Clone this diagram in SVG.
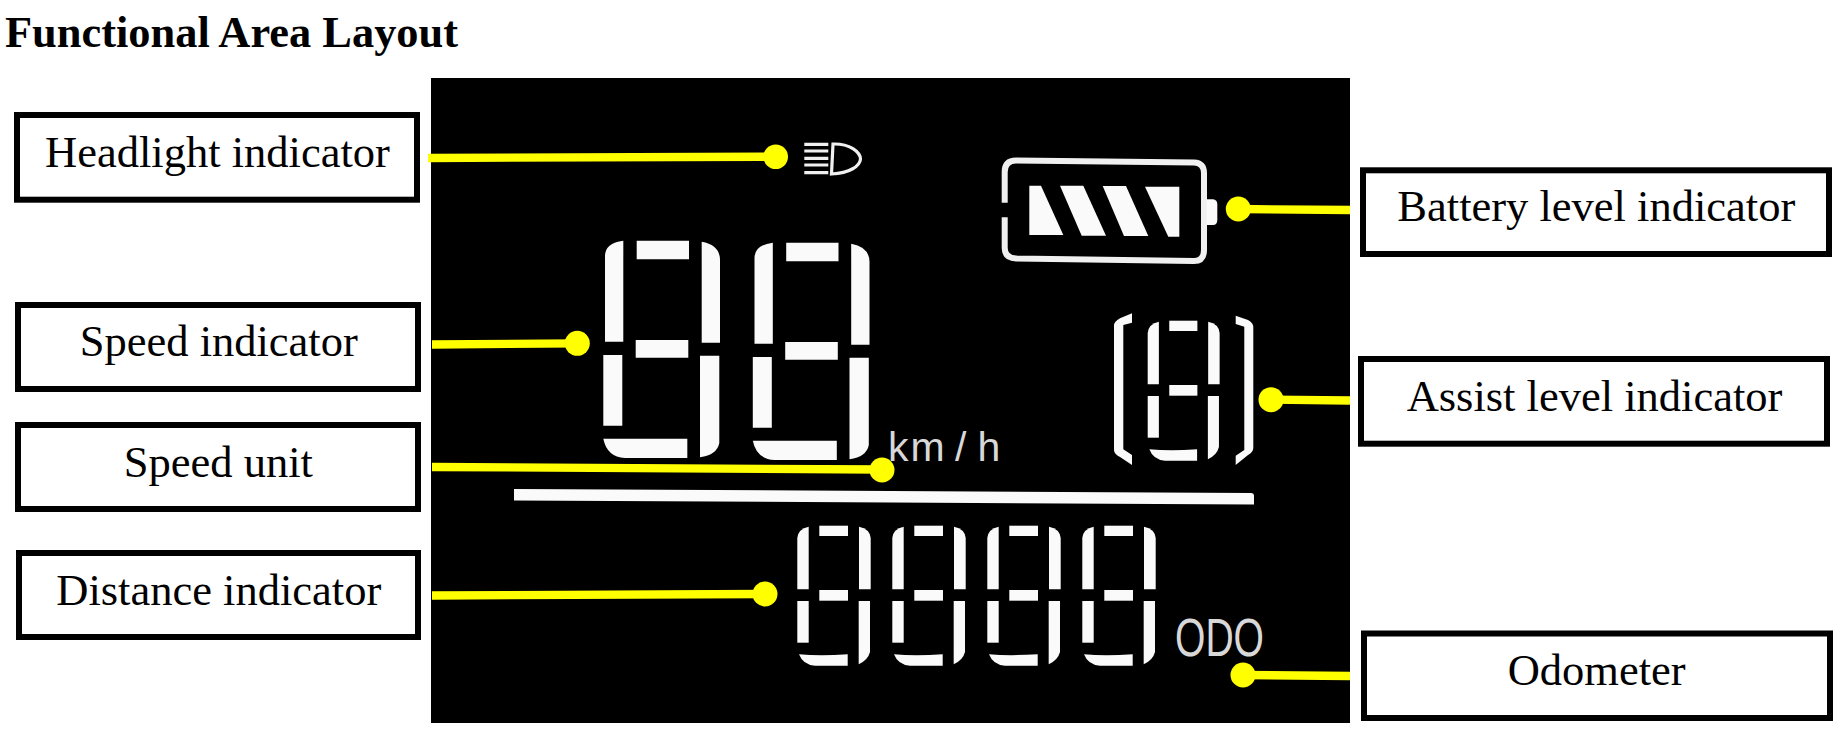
<svg xmlns="http://www.w3.org/2000/svg" width="1840" height="744" viewBox="0 0 1840 744">
<style>
.box{fill:#fff;stroke:#000;stroke-width:6}
.lbl{font-family:"Liberation Serif","Times New Roman",serif;font-size:44.5px;fill:#000;text-anchor:middle}
.ttl{font-family:"Liberation Serif","Times New Roman",serif;font-size:44.4px;font-weight:bold;fill:#000}
.seg{fill:#fafafa}
.ln{stroke:#ffff00;stroke-width:8.3;fill:none}
.dot{fill:#ffff00}
.lcd{font-family:"Liberation Sans",Arial,sans-serif;fill:#d8d8d8}
</style>
<defs>
<g id="bigDigit" class="seg">
<path d="M605 341.7V256Q605 243 623.3 240.7V341.7Z"/>
<path d="M636.7 240.7H689V259.3H636.7Z"/>
<path d="M701.7 241.7Q720 245 720 260V342.7H701.7Z"/>
<path d="M635.7 340H688.3V357.7H635.7Z"/>
<path d="M603.3 355H622.3V425.7H603.3Z"/>
<path d="M603.3 438.7H687.3V458H625Q607 457 603.3 438.7Z"/>
<path d="M700 355.7H719.3V443Q717 455 700 457.3Z"/>
</g>
<g id="smallDigit" class="seg">
<path d="M797.3 589.3V538Q798 529 808.7 526.7V589.3Z"/>
<path d="M819.3 525.7H848V536H819.3Z"/>
<path d="M859 526.7Q870 529 870.7 538V589.3H859Z"/>
<path d="M819.3 590H848V600.7H819.3Z"/>
<path d="M797.3 601H808.7V642.7H797.3Z"/>
<path d="M799 654.3Q820 656 847.7 654.3V665.7H815Q803 665 799 654.3Z"/>
<path d="M858.7 601H870V652Q868 660 858.7 664.3Z"/>
</g>
</defs>
<rect width="1840" height="744" fill="#fff"/>
<text class="ttl" x="5" y="47">Functional Area Layout</text>
<g id="display">
<rect x="431" y="78" width="919" height="645" fill="#000"/>
<g id="headlight-icon">
<path d="M804.3 144.3H828.3M804.3 151H828.3M804.3 158.3H828.3M804.3 165H828.3M804.3 172.7H828.3" stroke="#f0f0f0" stroke-width="3.2" fill="none"/>
<path d="M833 144C850 143.5 860 152 860.5 159C860 166 850 173 831.5 174Z" stroke="#f0f0f0" stroke-width="3.2" fill="none"/>
</g>
<g id="battery-icon">
<path d="M1004.7 202.7V172Q1004.7 160.5 1016 160.5L1194 162.5Q1204 163 1204 173V250Q1204 261 1194 261L1016 258.5Q1004.7 258 1004.7 248V217.3" stroke="#f0f0f0" stroke-width="6" fill="none"/>
<path class="seg" d="M1206.7 199.3H1213Q1217.3 200 1217.3 204V220Q1217.3 225 1213 225H1206.7Z"/>
<path class="seg" d="M1029.3 185.7H1041L1063.3 235H1029.3Z"/>
<path class="seg" d="M1060 185.7H1083.3L1106 235.7H1081.7Z"/>
<path class="seg" d="M1102.7 186H1126L1148.3 236H1124Z"/>
<path class="seg" d="M1145 186.7H1179.3V236.7H1168.3Z"/>
</g>
<g id="speed-digits">
<use href="#bigDigit"/>
<use href="#bigDigit" x="149.5" y="2"/>
</g>
<text class="lcd" x="888 910.6 955 977.6" y="461" font-size="41">km/h</text>
<g id="assist-digit">
<path class="seg" d="M1132 313.3L1120 318.3Q1114 322 1114 325V450Q1114 454 1120 457L1132 465V455L1123.3 449.3V325L1132 322.7Z"/>
<path class="seg" d="M1235.7 315.7L1248 320Q1253.3 323 1253.3 326.7V448Q1253.3 452 1248 455L1235.7 465V455.7L1244.3 450V326.7L1235.7 324Z"/>
<use href="#smallDigit" transform="translate(1147.7 321.7) scale(.98 1) translate(-797.3 -526.7)"/>
</g>
<path id="divider" class="seg" d="M514 489L1251 493Q1254 493 1254 496V504.5L514 500.5Z"/>
<g id="odo-digits">
<use href="#smallDigit"/>
<use href="#smallDigit" x="95"/>
<use href="#smallDigit" x="190"/>
<use href="#smallDigit" x="285"/>
</g>
<text class="lcd" x="1175" y="656" font-size="53" textLength="89" lengthAdjust="spacingAndGlyphs">ODO</text>
</g>
<g id="connectors">
<path class="ln" d="M428 158L775.7 156.7"/><circle class="dot" cx="775.7" cy="156.7" r="12.3"/>
<path class="ln" d="M432 344.5L577.3 343.3"/><circle class="dot" cx="577.3" cy="343.3" r="12.5"/>
<path class="ln" d="M432 467L882 469.5"/><circle class="dot" cx="882" cy="470" r="12.5"/>
<path class="ln" d="M432 595.5L765 594"/><circle class="dot" cx="765" cy="594" r="12.5"/>
<path class="ln" d="M1238.3 209L1350 210"/><circle class="dot" cx="1238.3" cy="209" r="12.5"/>
<path class="ln" d="M1271 399.7L1350 400.5"/><circle class="dot" cx="1271" cy="399.7" r="12.5"/>
<path class="ln" d="M1243 675L1350 676"/><circle class="dot" cx="1243" cy="675" r="12.5"/>
</g>
<g id="headlight-label"><rect class="box" x="17" y="115" width="400" height="84.7"/><text class="lbl" x="217.5" y="166.5">Headlight indicator</text></g>
<g id="speed-label"><rect class="box" x="18" y="305" width="400" height="84"/><text class="lbl" x="218.8" y="356">Speed indicator</text></g>
<g id="unit-label"><rect class="box" x="18" y="425" width="400" height="84"/><text class="lbl" x="218.4" y="476.7">Speed unit</text></g>
<g id="distance-label"><rect class="box" x="19" y="553" width="399" height="84"/><text class="lbl" x="218.8" y="604.7">Distance indicator</text></g>
<g id="battery-label"><rect class="box" x="1363" y="170.3" width="466" height="83.7"/><text class="lbl" x="1596.3" y="220.7">Battery level indicator</text></g>
<g id="assist-label"><rect class="box" x="1361" y="359" width="466" height="84.7"/><text class="lbl" x="1594.5" y="410.7">Assist level indicator</text></g>
<g id="odometer-label"><rect class="box" x="1364" y="633.5" width="466" height="84.5"/><text class="lbl" x="1596.7" y="685">Odometer</text></g>
</svg>
